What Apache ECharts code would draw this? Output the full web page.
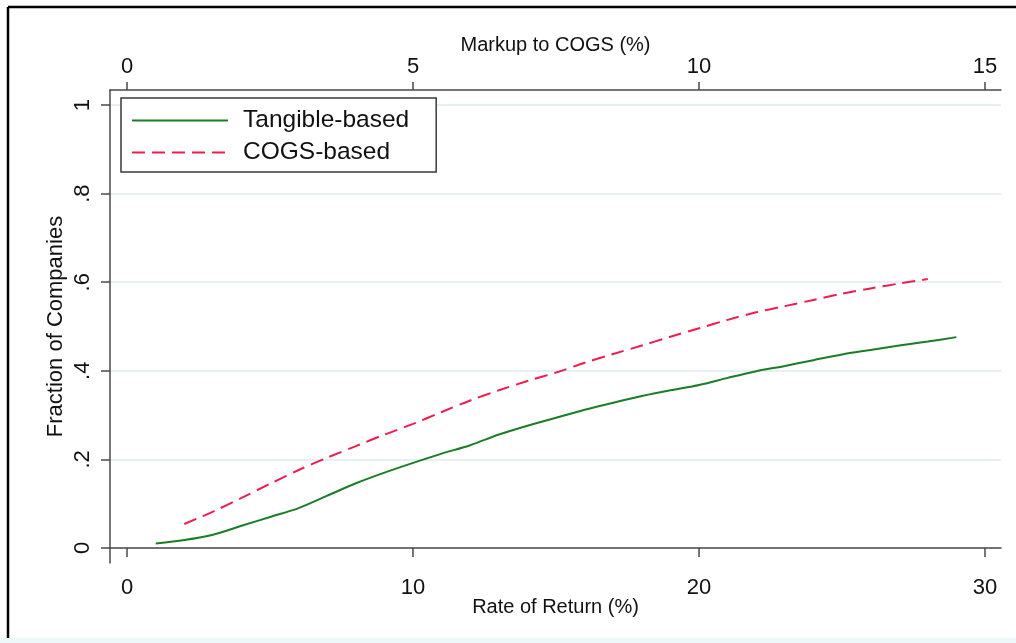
<!DOCTYPE html>
<html>
<head>
<meta charset="utf-8">
<script src="https://cdn.jsdelivr.net/npm/echarts@6/dist/echarts.min.js"></script>
<style>
html,body{margin:0;padding:0;background:#fff;}
#c{width:1016px;height:643px;}
</style>
</head>
<body>
<div id="c"></div>
<script>
// Data
const rateOfReturn = [1,2,3,4,5,6,7,8,9,10,11,12,13,14,15,16,17,18,19,20,21,22,23,24,25,26,27,28,29];
const tangibleBased = [0.010,0.018,0.030,0.050,0.070,0.090,0.118,0.146,0.170,0.192,0.213,0.232,0.256,0.276,0.294,0.312,0.328,0.343,0.356,0.368,0.384,0.399,0.411,0.424,0.437,0.447,0.457,0.466,0.476];
const cogsX = [2,3,4,5,6,7,8,9,10,11,12,13,14,15,16,17,18,19,20,21,22,23,24,25,26,27,28];
const cogsBased = [0.054,0.082,0.113,0.145,0.176,0.204,0.230,0.256,0.280,0.307,0.333,0.356,0.377,0.396,0.418,0.438,0.457,0.477,0.496,0.515,0.532,0.546,0.560,0.574,0.586,0.597,0.607];
const bottomTicks = [0,10,20,30];
const topTicks = [0,5,10,15];
const yTickValues = [0,0.2,0.4,0.6,0.8,1];
const yTickLabels = ['0','.2','.4','.6','.8','1'];
const seriesNames = ['Tangible-based','COGS-based'];

const FONT = '"Liberation Sans", Arial, Helvetica, sans-serif';
const AXIS_COLOR = '#4a4a4a';
const chart = echarts.init(document.getElementById('c'), null, {renderer:'canvas'});

const option = {
  backgroundColor: '#ffffff',
  animation: false,
  textStyle: {fontFamily: FONT},
  grid: {left: 110, right: 15, top: 90, bottom: 80, containLabel: false},
  legend: {
    left: 121, top: 98,
    orient: 'vertical',
    data: seriesNames,
    itemWidth: 96, itemHeight: 10, itemGap: 7,
    padding: [10, 27, 7, 10],
    borderColor: '#3a3a3a', borderWidth: 1.5,
    backgroundColor: '#fff',
    itemStyle: {opacity: 0},
    textStyle: {fontFamily: FONT, fontSize: 24.5, color: '#111', lineHeight: 24, padding: [0,0,0,10]}
  },
  xAxis: [
    {
      type: 'value', position: 'bottom', min: -0.6, max: 30.56,
      name: 'Rate of Return (%)', nameLocation: 'middle', nameGap: 34, nameMoveOverlap: false,
      nameTextStyle: {fontFamily: FONT, fontSize: 20, color: '#111'},
      axisLine: {show: true, lineStyle: {color: AXIS_COLOR, width: 1.5}},
      axisTick: {show: true, length: 9, customValues: bottomTicks, lineStyle: {color: AXIS_COLOR, width: 1.5}},
      axisLabel: {customValues: bottomTicks, fontSize: 22, color: '#111', margin: 14, fontFamily: FONT},
      splitLine: {show: false}
    },
    {
      type: 'value', position: 'top', min: -0.3, max: 15.28,
      name: 'Markup to COGS (%)', nameLocation: 'middle', nameGap: 35, nameMoveOverlap: false,
      nameTextStyle: {fontFamily: FONT, fontSize: 20, color: '#111'},
      axisLine: {show: true, onZero: false, lineStyle: {color: AXIS_COLOR, width: 1.5}},
      axisTick: {show: true, length: 8, customValues: topTicks, lineStyle: {color: AXIS_COLOR, width: 1.5}},
      axisLabel: {customValues: topTicks, fontSize: 22, color: '#111', margin: 12, fontFamily: FONT},
      splitLine: {show: false}
    }
  ],
  yAxis: {
    type: 'value', min: -0.034, max: 1.034,
    name: 'Fraction of Companies', nameLocation: 'middle', nameGap: 43, nameRotate: 90, nameMoveOverlap: false,
    nameTextStyle: {fontFamily: FONT, fontSize: 22, color: '#111'},
    axisLine: {show: true, onZero: false, lineStyle: {color: AXIS_COLOR, width: 1.5}},
    axisTick: {show: true, length: 9, customValues: yTickValues, lineStyle: {color: AXIS_COLOR, width: 1.5}},
    axisLabel: {
      customValues: yTickValues, rotate: 90, fontSize: 22, color: '#111', margin: 16, fontFamily: FONT,
      formatter: function (v) {
        const i = yTickValues.findIndex(t => Math.abs(t - v) < 1e-6);
        return i >= 0 ? yTickLabels[i] : '';
      }
    },
    splitLine: {show: true, lineStyle: {color: '#e6eff2', width: 2}}
  },
  series: [
    {
      name: seriesNames[0], type: 'line', xAxisIndex: 0, yAxisIndex: 0,
      data: rateOfReturn.map((x, i) => [x, tangibleBased[i]]),
      symbol: 'none', smooth: 0.3, color: '#1b7d27',
      lineStyle: {color: '#1b7d27', width: 2}
    },
    {
      name: seriesNames[1], type: 'line', xAxisIndex: 0, yAxisIndex: 0,
      data: cogsX.map((x, i) => [x, cogsBased[i]]),
      symbol: 'none', smooth: 0.3, color: '#ee1d4f',
      lineStyle: {color: '#ee1d4f', width: 2, type: [13, 7]}
    }
  ],
  graphic: [
    {type: 'line', shape: {x1: 8, y1: 7, x2: 1016, y2: 7}, style: {stroke: '#000', lineWidth: 2.5}, z: 100},
    {type: 'line', shape: {x1: 8, y1: 7, x2: 8, y2: 638}, style: {stroke: '#000', lineWidth: 2.5}, z: 100},
    {type: 'rect', shape: {x: 0, y: 638, width: 1016, height: 5}, style: {fill: '#eef7f9'}, z: 100}
  ]
};
chart.setOption(option);
</script>
</body>
</html>
